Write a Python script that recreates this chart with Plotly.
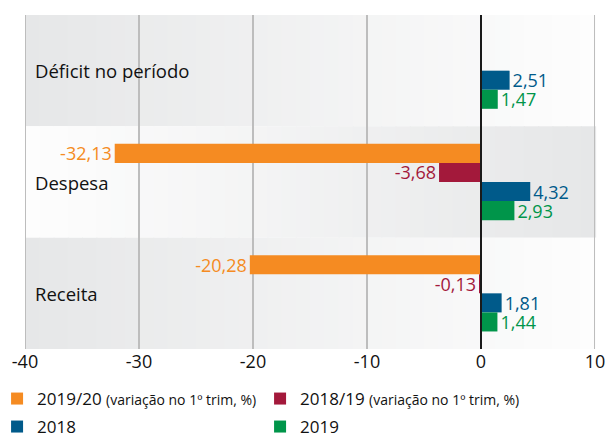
import plotly.graph_objects as go

categories = ["Déficit no período", "Despesa", "Receita"]
series_names = [
    '2019/20 <span style="font-size:14px">(variação no 1º trim, %)</span>',
    '2018/19 <span style="font-size:14px">(variação no 1º trim, %)</span>',
    "2018",
    "2019",
]
v_2019_20 = [None, -32.13, -20.28]
v_2018_19 = [None, -3.68, -0.13]
v_2018 = [2.51, 4.32, 1.81]
v_2019 = [1.47, 2.93, 1.44]
colors = ["#F58B22", "#A3193B", "#005A8A", "#00954A"]
x_ticks = [-40, -30, -20, -10, 0, 10]
x_ticktext = ["-40", "-30", "-20", "-10", "0", "10"]
legend_ids = ["legend", "legend", "legend2", "legend2"]

FONT = "Open Sans"


def fmt(v):
    return "" if v is None else ("%.2f" % v).replace(".", ",")


fig = go.Figure()
for name, vals, col, lg in zip(series_names, [v_2019_20, v_2018_19, v_2018, v_2019], colors, legend_ids):
    fig.add_trace(go.Bar(
        y=categories, x=vals, orientation="h", name=name,
        marker=dict(color=col, line=dict(width=0)),
        text=[fmt(v) for v in vals], textposition="outside",
        textfont=dict(color=col, size=18, family=FONT),
        constraintext="none", cliponaxis=False, legend=lg,
    ))

shapes = []
N = 40


def lerp(a, b, t):
    return int(round(a + (b - a) * t))


gray = (230, 231, 232)
white = (253, 253, 253)
for bi in range(3):
    y1 = 1 - bi / 3
    y0 = 1 - (bi + 1) / 3
    for k in range(N):
        t = k / (N - 1)
        if bi % 2 == 0:
            c = tuple(lerp(g, w, t) for g, w in zip(gray, white))
        else:
            c = tuple(lerp(w, g, t) for g, w in zip(gray, white))
        shapes.append(dict(type="rect", xref="paper", yref="paper",
                           x0=k / N, x1=(k + 1) / N + 0.002, y0=y0, y1=y1,
                           fillcolor="rgb(%d,%d,%d)" % c, line=dict(width=0),
                           layer="below"))
for xv in x_ticks:
    if xv == 0:
        continue
    shapes.append(dict(type="line", xref="x", yref="paper", x0=xv, x1=xv, y0=0, y1=1,
                       line=dict(color="#BDBDBD", width=2), layer="below"))
shapes.append(dict(type="line", xref="x", yref="paper", x0=0, x1=0, y0=0, y1=1,
                   line=dict(color="#1A1A1A", width=2), layer="above"))

annotations = []
for cat in categories:
    annotations.append(dict(x=0.014, y=cat, xref="paper", yref="y", text=cat,
                            showarrow=False, xanchor="left", yanchor="middle",
                            font=dict(size=18.5, family=FONT, color="#111111")))

legend_common = dict(orientation="h", xanchor="left", yanchor="middle",
                     entrywidth=218, entrywidthmode="pixels", traceorder="normal",
                     font=dict(size=17, family=FONT, color="#111111"),
                     bgcolor="rgba(0,0,0,0)", itemwidth=30)

fig.update_layout(
    width=606, height=434,
    margin=dict(l=25, r=11, t=15, b=85, autoexpand=False),
    paper_bgcolor="white", plot_bgcolor="white",
    barmode="group", bargap=0.315, bargroupgap=0,
    font=dict(family=FONT, color="#111111", size=16),
    shapes=shapes, annotations=annotations,
    showlegend=True,
    legend=dict(x=-0.049, y=-0.1497, **legend_common),
    legend2=dict(x=-0.049, y=-0.2335, **legend_common),
    xaxis=dict(range=[-40, 10], tickvals=x_ticks, ticktext=x_ticktext, showgrid=False,
               zeroline=False,
               tickfont=dict(size=18, family=FONT, color="#111111"), ticks="",
               showline=False, fixedrange=True),
    yaxis=dict(autorange="reversed", showticklabels=False, showgrid=False,
               zeroline=False, showline=False, ticks=""),
)

fig.write_html(
    "out.html",
    config={"displayModeBar": False},
    post_script="document.body.style.margin='0';document.body.style.overflow='hidden';",
)
